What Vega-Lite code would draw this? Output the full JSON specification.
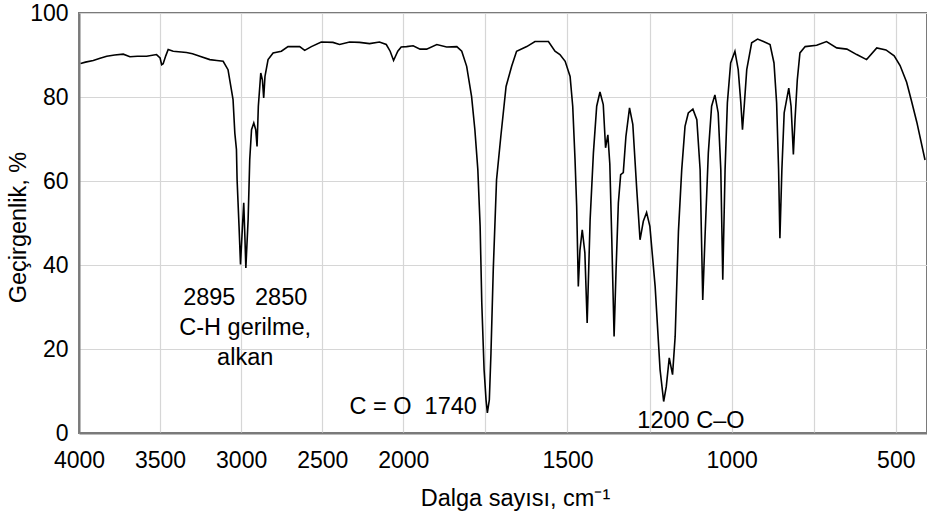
{
  "$schema": "https://vega.github.io/schema/vega-lite/v6.json",
  "width": 848,
  "height": 420,
  "autosize": {"type": "none"},
  "padding": {"left": 79, "top": 13, "right": 0, "bottom": 86},
  "background": "white",
  "config": {
    "font": "Liberation Sans",
    "view": {"stroke": "#7a7a7a", "strokeWidth": 2},
    "axis": {"labelColor": "#000", "titleColor": "#000", "labelFont": "Liberation Sans", "titleFont": "Liberation Sans", "gridColor": "#d6d6d6", "gridWidth": 1.2, "ticks": false, "domain": true, "domainColor": "#7a7a7a", "domainWidth": 2, "titleFontWeight": "normal"}
  },
  "layer": [
    {
      "data": {"values": [
        {"w": 3990, "t": 88.0}, {"w": 3960, "t": 88.3}, {"w": 3912, "t": 88.7}, {"w": 3870, "t": 89.2}, {"w": 3829, "t": 89.7}, {"w": 3780, "t": 90.0}, {"w": 3727, "t": 90.2}, {"w": 3686, "t": 89.6}, {"w": 3640, "t": 89.7}, {"w": 3583, "t": 89.7}, {"w": 3522, "t": 90.1}, {"w": 3500, "t": 89.3}, {"w": 3490, "t": 87.7}, {"w": 3481, "t": 87.9}, {"w": 3465, "t": 89.8}, {"w": 3450, "t": 91.3}, {"w": 3419, "t": 90.9}, {"w": 3337, "t": 90.6}, {"w": 3300, "t": 90.3}, {"w": 3255, "t": 89.7}, {"w": 3193, "t": 88.9}, {"w": 3150, "t": 88.7}, {"w": 3111, "t": 88.5}, {"w": 3081, "t": 86.5}, {"w": 3060, "t": 81.7}, {"w": 3050, "t": 79.4}, {"w": 3039, "t": 71.4}, {"w": 3029, "t": 67.5}, {"w": 3025, "t": 60.3}, {"w": 3013, "t": 49.2}, {"w": 3004, "t": 40.1}, {"w": 2992, "t": 49.2}, {"w": 2984, "t": 54.8}, {"w": 2977, "t": 46.8}, {"w": 2971, "t": 39.3}, {"w": 2957, "t": 50.8}, {"w": 2947, "t": 65.1}, {"w": 2936, "t": 72.2}, {"w": 2922, "t": 73.8}, {"w": 2910, "t": 72.2}, {"w": 2902, "t": 68.2}, {"w": 2894, "t": 77.8}, {"w": 2879, "t": 85.7}, {"w": 2869, "t": 84.1}, {"w": 2861, "t": 79.8}, {"w": 2853, "t": 84.9}, {"w": 2834, "t": 88.9}, {"w": 2803, "t": 90.5}, {"w": 2752, "t": 90.9}, {"w": 2711, "t": 92.0}, {"w": 2670, "t": 92.0}, {"w": 2639, "t": 92.0}, {"w": 2608, "t": 91.1}, {"w": 2567, "t": 92.0}, {"w": 2506, "t": 93.1}, {"w": 2434, "t": 93.0}, {"w": 2393, "t": 92.5}, {"w": 2331, "t": 93.1}, {"w": 2270, "t": 93.0}, {"w": 2208, "t": 92.7}, {"w": 2147, "t": 93.1}, {"w": 2105, "t": 92.5}, {"w": 2081, "t": 90.9}, {"w": 2060, "t": 88.7}, {"w": 2034, "t": 90.9}, {"w": 2013, "t": 91.9}, {"w": 1990, "t": 92.0}, {"w": 1970, "t": 92.2}, {"w": 1949, "t": 91.4}, {"w": 1929, "t": 91.4}, {"w": 1898, "t": 92.5}, {"w": 1868, "t": 91.9}, {"w": 1837, "t": 92.0}, {"w": 1822, "t": 90.9}, {"w": 1807, "t": 87.3}, {"w": 1792, "t": 80.1}, {"w": 1782, "t": 72.2}, {"w": 1773, "t": 62.7}, {"w": 1766, "t": 49.2}, {"w": 1761, "t": 31.0}, {"w": 1754, "t": 15.1}, {"w": 1748, "t": 7.9}, {"w": 1744, "t": 4.8}, {"w": 1738, "t": 7.9}, {"w": 1733, "t": 19.0}, {"w": 1726, "t": 38.9}, {"w": 1716, "t": 60.3}, {"w": 1703, "t": 70.6}, {"w": 1687, "t": 82.5}, {"w": 1670, "t": 87.3}, {"w": 1655, "t": 90.9}, {"w": 1624, "t": 92.0}, {"w": 1599, "t": 93.2}, {"w": 1558, "t": 93.2}, {"w": 1538, "t": 90.9}, {"w": 1523, "t": 90.1}, {"w": 1507, "t": 88.5}, {"w": 1492, "t": 84.9}, {"w": 1484, "t": 77.8}, {"w": 1477, "t": 65.1}, {"w": 1472, "t": 54.0}, {"w": 1467, "t": 34.9}, {"w": 1462, "t": 43.5}, {"w": 1455, "t": 48.4}, {"w": 1447, "t": 42.9}, {"w": 1440, "t": 26.2}, {"w": 1431, "t": 50.8}, {"w": 1421, "t": 66.7}, {"w": 1411, "t": 77.8}, {"w": 1401, "t": 81.2}, {"w": 1391, "t": 78.2}, {"w": 1384, "t": 67.9}, {"w": 1377, "t": 71.0}, {"w": 1371, "t": 64.0}, {"w": 1365, "t": 46.0}, {"w": 1358, "t": 23.0}, {"w": 1352, "t": 38.9}, {"w": 1345, "t": 54.8}, {"w": 1338, "t": 61.5}, {"w": 1330, "t": 62.0}, {"w": 1322, "t": 70.6}, {"w": 1311, "t": 77.4}, {"w": 1301, "t": 73.5}, {"w": 1289, "t": 58.0}, {"w": 1279, "t": 46.0}, {"w": 1269, "t": 50.4}, {"w": 1259, "t": 52.5}, {"w": 1249, "t": 49.2}, {"w": 1233, "t": 34.9}, {"w": 1218, "t": 15.1}, {"w": 1207, "t": 7.5}, {"w": 1199, "t": 11.1}, {"w": 1190, "t": 17.9}, {"w": 1180, "t": 13.9}, {"w": 1172, "t": 23.0}, {"w": 1162, "t": 48.0}, {"w": 1152, "t": 62.7}, {"w": 1142, "t": 73.0}, {"w": 1132, "t": 76.2}, {"w": 1118, "t": 77.1}, {"w": 1106, "t": 74.6}, {"w": 1096, "t": 62.7}, {"w": 1088, "t": 31.7}, {"w": 1081, "t": 46.8}, {"w": 1071, "t": 66.7}, {"w": 1061, "t": 77.8}, {"w": 1051, "t": 80.5}, {"w": 1041, "t": 76.2}, {"w": 1033, "t": 62.7}, {"w": 1027, "t": 36.5}, {"w": 1020, "t": 62.7}, {"w": 1013, "t": 78.6}, {"w": 1003, "t": 88.1}, {"w": 990, "t": 90.9}, {"w": 980, "t": 86.5}, {"w": 972, "t": 78.6}, {"w": 967, "t": 72.2}, {"w": 961, "t": 78.6}, {"w": 954, "t": 86.5}, {"w": 939, "t": 92.9}, {"w": 921, "t": 93.8}, {"w": 903, "t": 93.2}, {"w": 883, "t": 92.5}, {"w": 871, "t": 88.1}, {"w": 863, "t": 78.6}, {"w": 857, "t": 62.7}, {"w": 853, "t": 46.4}, {"w": 847, "t": 62.7}, {"w": 840, "t": 76.2}, {"w": 826, "t": 82.1}, {"w": 819, "t": 77.8}, {"w": 815, "t": 71.4}, {"w": 812, "t": 66.3}, {"w": 807, "t": 74.6}, {"w": 800, "t": 84.1}, {"w": 792, "t": 90.5}, {"w": 776, "t": 92.0}, {"w": 741, "t": 92.3}, {"w": 711, "t": 93.2}, {"w": 680, "t": 91.7}, {"w": 649, "t": 91.4}, {"w": 619, "t": 90.1}, {"w": 589, "t": 88.9}, {"w": 558, "t": 91.7}, {"w": 530, "t": 91.2}, {"w": 505, "t": 89.8}, {"w": 487, "t": 87.5}, {"w": 467, "t": 83.5}, {"w": 452, "t": 79.0}, {"w": 436, "t": 74.0}, {"w": 411, "t": 65.0}
      ]},
      "mark": {"type": "line", "color": "#000000", "strokeWidth": 1.6, "interpolate": "linear"},
      "encoding": {
        "x": {
          "field": "w", "type": "quantitative",
          "scale": {"domain": [4000, 2000, 405], "range": [0, 324.3, 848], "nice": false, "zero": false},
          "axis": {
            "values": [4000, 3500, 3000, 2500, 2000, 1750, 1500, 1250, 1000, 750, 500],
            "labelExpr": "datum.value % 500 == 0 ? datum.label : ''",
            "format": "d",
            "grid": true,
            "labelFontSize": 23,
            "labelPadding": 16,
            "labelOverlap": false,
            "labelFlush": false,
            "title": "Dalga sayısı, cm⁻¹",
            "titleFontSize": 23.5,
            "titleX": 436,
            "titleY": 72,
            "titleBaseline": "alphabetic",
            "titleAlign": "center"
          }
        },
        "y": {
          "field": "t", "type": "quantitative",
          "scale": {"domain": [0, 100], "nice": false, "zero": false},
          "axis": {
            "values": [0, 20, 40, 60, 80, 100],
            "grid": true,
            "labelFontSize": 23,
            "labelPadding": 11,
            "title": "Geçirgenlik, %",
            "titleFontSize": 23.5,
            "titleX": -54,
            "titleY": 214,
            "titleAngle": -90,
            "titleBaseline": "alphabetic",
            "titleAlign": "center"
          }
        }
      }
    },
    {
      "data": {"values": [
        {"w": 2975, "t": 30.5, "label": "2895\u00a0\u00a0\u00a02850\nC-H gerilme,\nalkan"},
        {"w": 1124, "t": 1.1, "label": "1200 C–O"}
      ]},
      "mark": {"type": "text", "align": "center", "baseline": "alphabetic", "fontSize": 23.5, "lineHeight": 30, "lineBreak": "\n", "color": "#000", "font": "Liberation Sans"},
      "encoding": {
        "x": {"field": "w", "type": "quantitative"},
        "y": {"field": "t", "type": "quantitative"},
        "text": {"field": "label", "type": "nominal"}
      }
    },
    {
      "data": {"values": [
        {"w": 1776, "t": 4.5, "label": "C = O\u00a0\u00a01740"}
      ]},
      "mark": {"type": "text", "align": "right", "baseline": "alphabetic", "fontSize": 23.5, "color": "#000", "font": "Liberation Sans"},
      "encoding": {
        "x": {"field": "w", "type": "quantitative"},
        "y": {"field": "t", "type": "quantitative"},
        "text": {"field": "label", "type": "nominal"}
      }
    }
  ]
}
